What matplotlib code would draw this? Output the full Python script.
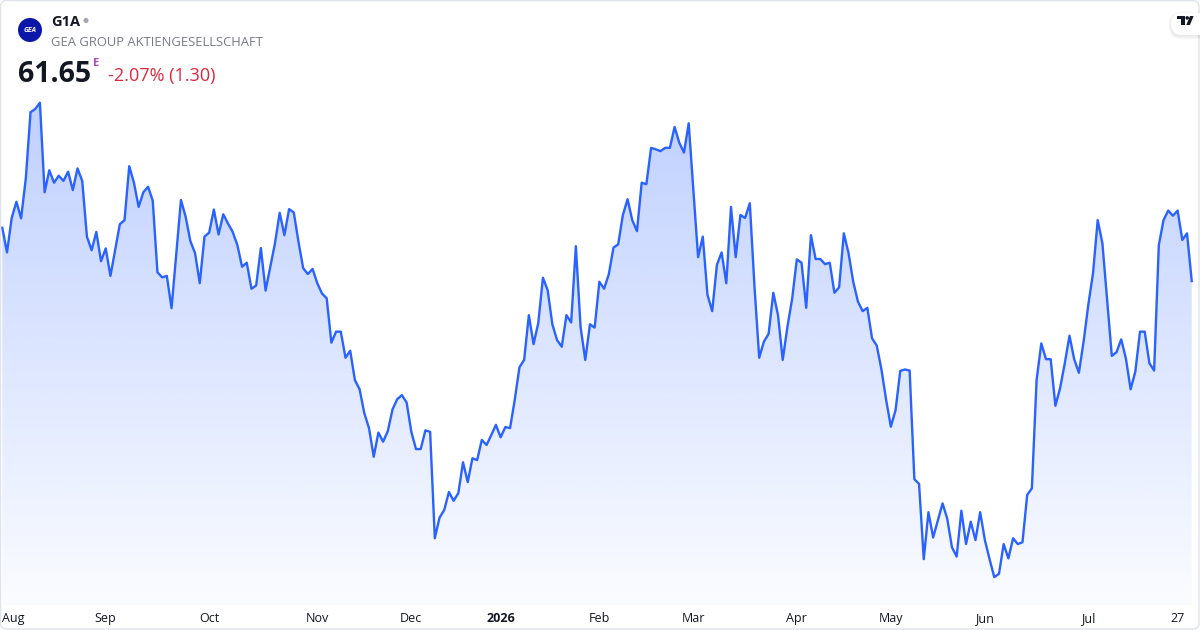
import numpy as np
import pandas as pd
import matplotlib
matplotlib.use("Agg")
import matplotlib.pyplot as plt
from matplotlib.patches import FancyBboxPatch, Circle, Polygon, Rectangle

# ---------------- data ----------------
ticker = "G1A"
company = "GEA GROUP AKTIENGESELLSCHAFT"
last_price = "61.65"
change_text = "-2.07% (1.30)"

holidays = ["2025-12-24", "2025-12-25", "2025-12-26", "2025-12-31",
            "2026-01-01", "2026-04-03", "2026-04-06", "2026-05-01"]

prices = [
    63.10, 62.43, 63.37, 63.81, 63.36, 64.45, 66.25, 66.34, 66.51, 64.07,
    64.67, 64.33, 64.52, 64.38, 64.63, 64.13, 64.72, 64.38, 62.86, 62.49,
    62.99, 62.19, 62.54, 61.79, 62.49, 63.20, 63.31, 64.78, 64.33, 63.67,
    64.07, 64.22, 63.84, 61.89, 61.75, 61.79, 60.91, 62.39, 63.86, 63.40,
    62.74, 62.41, 61.59, 62.86, 62.97, 63.60, 62.92, 63.47, 63.22, 62.99,
    62.63, 62.04, 62.15, 61.44, 61.53, 62.55, 61.39, 62.04, 62.68, 63.51,
    62.90, 63.61, 63.52, 62.72, 62.00, 61.84, 61.98, 61.59, 61.31, 61.18,
    59.97, 60.27, 60.27, 59.56, 59.75, 58.95, 58.70, 58.05, 57.64, 56.86,
    57.52, 57.27, 57.56, 58.15, 58.43, 58.54, 58.34, 57.54, 57.07, 57.07,
    57.58, 57.54, 54.64, 55.20, 55.41, 55.90, 55.66, 55.87, 56.71, 56.17,
    56.82, 56.77, 57.32, 57.18, 57.45, 57.73, 57.39, 57.67, 57.64, 58.41,
    59.30, 59.50, 60.72, 59.93, 60.50, 61.74, 61.40, 60.47, 60.04, 59.86,
    60.72, 60.52, 62.60, 60.40, 59.50, 60.47, 60.38, 61.63, 61.44, 61.83,
    62.56, 62.65, 63.45, 63.88, 63.31, 63.01, 64.33, 64.29, 65.28, 65.24,
    65.19, 65.28, 65.28, 65.85, 65.42, 65.15, 65.95, 64.13, 62.30, 62.86,
    61.27, 60.83, 62.09, 62.43, 61.59, 63.67, 62.30, 63.45, 63.37, 63.77,
    61.49, 59.56, 60.00, 60.21, 61.33, 60.72, 59.50, 60.40, 61.16, 62.24,
    62.15, 60.92, 62.90, 62.25, 62.25, 62.11, 62.15, 61.33, 61.48, 62.95,
    62.41, 61.63, 61.09, 60.83, 60.92, 60.09, 59.89, 59.24, 58.41, 57.68,
    58.13, 59.20, 59.24, 59.21, 56.25, 56.12, 54.07, 55.35, 54.66, 55.12,
    55.59, 55.17, 54.39, 54.14, 55.39, 54.48, 55.09, 54.59, 55.35, 54.59,
    54.07, 53.58, 53.67, 54.48, 54.09, 54.64, 54.48, 54.53, 55.82, 56.00,
    58.95, 59.95, 59.52, 59.52, 58.25, 58.73, 59.41, 60.16, 59.52, 59.15,
    60.00, 61.00, 61.86, 63.31, 62.68, 61.13, 59.61, 59.71, 60.06, 59.54,
    58.70, 59.18, 60.27, 60.27, 59.41, 59.21, 62.63, 63.31, 63.57, 63.43,
    63.57, 62.77, 62.95, 61.65,
]

dates = pd.bdate_range("2025-07-30", "2026-07-30")
dates = dates[~dates.isin(pd.to_datetime(holidays))][:len(prices)]
x = np.arange(len(prices))
y = np.array(prices)

# tick positions: first trading day of each month, plus the 27th of the last month
tick_pos, tick_lab, tick_bold = [], [], []
prev_month = None
for i, d in enumerate(dates):
    if d.month != prev_month:
        prev_month = d.month
        if i == 0:
            continue
        if d.month == 1:
            tick_lab.append(str(d.year)); tick_bold.append(True)
        else:
            tick_lab.append(d.strftime("%b")); tick_bold.append(False)
        tick_pos.append(i - 1 if d.month != 8 else 0)
day_idx = int(np.where(dates == pd.Timestamp("2026-07-27"))[0][0])
tick_pos.append(day_idx); tick_lab.append("27"); tick_bold.append(False)

# ---------------- styling ----------------
plt.rcParams["font.family"] = ["Open Sans", "DejaVu Sans"]
LINE = "#2962FF"
W, H = 1200, 630

fig = plt.figure(figsize=(12, 6.3), dpi=100)
fig.patch.set_facecolor("white")

ax = fig.add_axes([0, 25 / H, 1, 605 / H])
ax.set_xlim(-0.49, 254.76)
y0, y1 = 52.82, 69.31
ax.set_ylim(y0, y1)
for s in ax.spines.values():
    s.set_visible(False)
ax.set_yticks([])

# gradient fill under the line
ymax = y.max()
n = 256
alpha = np.linspace(0.02, 0.30, n)
img = np.zeros((n, 2, 4))
img[..., 0] = 41 / 255
img[..., 1] = 98 / 255
img[..., 2] = 1.0
img[..., 3] = alpha[:, None]
im = ax.imshow(img, extent=[x[0], x[-1], y0, ymax], origin="lower",
               aspect="auto", interpolation="bilinear", zorder=1)
poly = ax.fill_between(x, y, y0, facecolor="none", edgecolor="none")
im.set_clip_path(poly.get_paths()[0], transform=ax.transData)

ax.plot(x, y, color=LINE, lw=1.7, solid_joinstyle="round", zorder=3)

ax.set_xticks(tick_pos)
ax.set_xticklabels(tick_lab)
ax.tick_params(axis="x", length=0, pad=5, labelsize=9, labelcolor="#131722")
for lab, b in zip(ax.get_xticklabels(), tick_bold):
    if b:
        lab.set_fontweight("bold")
ax.get_xticklabels()[0].set_ha("left")

# ---------------- overlay (pixel coordinates) ----------------
ov = fig.add_axes([0, 0, 1, 1], zorder=5)
ov.set_xlim(0, W)
ov.set_ylim(H, 0)
ov.axis("off")
ov.patch.set_alpha(0)

ov.add_patch(FancyBboxPatch((0.5, 0.5), W - 1.5, H - 1.5,
                            boxstyle="round,pad=0,rounding_size=6",
                            fc="none", ec="#e0e3eb", lw=1))

# logo
ov.add_patch(Circle((30, 30), 12, fc="#0b17a8", ec="none"))
ov.text(30, 30.5, "GEA", color="white", fontsize=5, ha="center", va="center",
        fontweight="bold", style="italic")

ov.text(51, 26.5, ticker, fontsize=10.5, fontweight="bold", color="#131722",
        ha="left", va="baseline")
ov.add_patch(Circle((86, 20.5), 2.6, fc="#a6a9b2", ec="none"))
ov.text(51, 45.5, company, fontsize=9.35, color="#787b86", ha="left", va="baseline")

ov.text(18, 82, last_price, fontsize=20.5, fontweight="bold", color="#131722",
        ha="left", va="baseline")
ov.text(93.5, 65.5, "E", fontsize=8, fontweight="bold", color="#ab47bc",
        ha="left", va="baseline")
ov.text(107.5, 81.5, change_text, fontsize=13, color="#e0283c",
        ha="left", va="baseline")

# TradingView badge
for k, a in [(3, 0.015), (2, 0.025), (1, 0.035)]:
    ov.add_patch(FancyBboxPatch((1171 - k, 13 - k + 1.5), 40 + 2 * k, 22 + 2 * k,
                                boxstyle="round,pad=0,rounding_size=%d" % (11 + k),
                                fc=(0, 0, 0, a), ec="none"))
ov.add_patch(FancyBboxPatch((1171, 13), 40, 22,
                            boxstyle="round,pad=0,rounding_size=11",
                            fc="white", ec="none"))
ov.add_patch(Rectangle((1177, 16), 7.5, 3.4, fc="#131722", ec="none"))
ov.add_patch(Rectangle((1181, 16), 3.5, 9, fc="#131722", ec="none"))
ov.add_patch(Circle((1187.2, 17.9), 1.8, fc="#131722", ec="none"))
ov.add_patch(Polygon([(1186.3, 25), (1189.9, 25), (1193.6, 16), (1190.0, 16)],
                     closed=True, fc="#131722", ec="none"))

fig.savefig("out.png", dpi=100, facecolor="white")
